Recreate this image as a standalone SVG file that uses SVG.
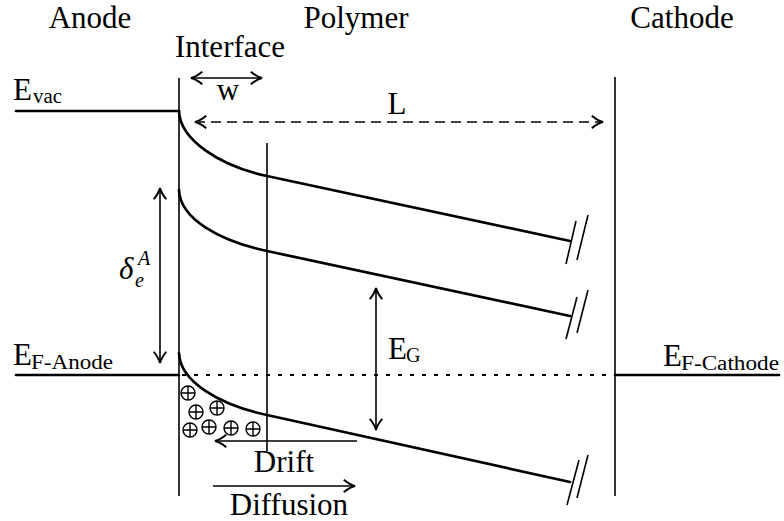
<svg xmlns="http://www.w3.org/2000/svg" width="784" height="521" viewBox="0 0 784 521">
<style>
text{font-family:"Liberation Serif","DejaVu Serif","Times New Roman",serif;fill:#000}
.t{font-size:31px}
.s{font-size:20px}
.i{font-style:italic}
.thick{stroke:#000;stroke-width:2.7;fill:none;stroke-linecap:round}
.thin{stroke:#000;stroke-width:1.6;fill:none}
.arr{stroke:#000;stroke-width:1.6;fill:none}
</style>
<defs>
<marker id="ah" markerUnits="userSpaceOnUse" markerWidth="20" markerHeight="20" viewBox="-12 -8 14 16" refX="0" refY="0" orient="auto-start-reverse">
<path d="M-9,-5 Q-4,-1 0,0 Q-4,1 -9,5" fill="none" stroke="#000" stroke-width="1.6"/>
</marker>
</defs>
<rect width="784" height="521" fill="#fff"/>

<g id="labels">
<text class="t" x="90" y="28" text-anchor="middle">Anode</text>
<text class="t" x="356" y="28" text-anchor="middle">Polymer</text>
<text class="t" x="682" y="28" text-anchor="middle">Cathode</text>
<text class="t" x="230" y="57" text-anchor="middle">Interface</text>
</g>

<g id="electrodes">
<line class="thin" x1="179" y1="78" x2="179" y2="496"/>
<line class="thin" x1="615" y1="77" x2="615" y2="496"/>
<line class="thick" x1="16" y1="111" x2="179" y2="111"/>
<line class="thick" x1="16" y1="375" x2="179" y2="375"/>
<line class="thick" x1="615" y1="375" x2="779" y2="375"/>
<line x1="182" y1="375" x2="612" y2="375" stroke="#000" stroke-width="2" stroke-dasharray="4 8"/>
<line class="thin" x1="267" y1="143" x2="267" y2="451"/>
</g>

<g id="level-labels">
<text class="t" x="13" y="100">E<tspan class="s" x="33" y="103" textLength="29" lengthAdjust="spacingAndGlyphs">vac</tspan></text>
<text class="t" x="13" y="365">E<tspan class="s" x="31" y="369" textLength="82" lengthAdjust="spacingAndGlyphs">F-Anode</tspan></text>
<text class="t" x="663" y="366">E<tspan class="s" x="681" y="370" textLength="98" lengthAdjust="spacingAndGlyphs">F-Cathode</tspan></text>
</g>

<g id="bands">
<path class="thick" d="M179,111 C180,140 220,166 267,176 L570,241"/>
<path class="thick" d="M179,190 C180,219 220,241 267,251 L570,316"/>
<path class="thick" d="M179,353 C180,382 220,405 267,415 L570,482"/>
<g class="thin" stroke-width="1.8">
<line x1="566" y1="264" x2="576" y2="221"/>
<line x1="577" y1="260" x2="588" y2="215"/>
<line x1="566" y1="339" x2="577" y2="297"/>
<line x1="577" y1="333" x2="588" y2="290"/>
<line x1="567" y1="505" x2="579" y2="460"/>
<line x1="577" y1="498" x2="588" y2="455"/>
</g>
</g>

<g id="holes" stroke="#000" stroke-width="1.4" fill="none">
<g id="h1"><circle cx="188" cy="393" r="7"/><path d="M181,393h14M188,386v14"/></g>
<g id="h2"><circle cx="196" cy="412" r="7"/><path d="M189,412h14M196,405v14"/></g>
<g id="h3"><circle cx="217" cy="408" r="7"/><path d="M210,408h14M217,401v14"/></g>
<g id="h4"><circle cx="190" cy="430" r="7"/><path d="M183,430h14M190,423v14"/></g>
<g id="h5"><circle cx="209" cy="427" r="7"/><path d="M202,427h14M209,420v14"/></g>
<g id="h6"><circle cx="231" cy="428" r="7"/><path d="M224,428h14M231,421v14"/></g>
<g id="h7"><circle cx="253" cy="429" r="7"/><path d="M246,429h14M253,422v14"/></g>
</g>

<g id="connectors">
<line class="arr" x1="191" y1="78" x2="262" y2="78" marker-start="url(#ah)" marker-end="url(#ah)"/>
<line class="arr" x1="195" y1="122" x2="603" y2="122" stroke-dasharray="10 6" marker-start="url(#ah)" marker-end="url(#ah)"/>
<line class="arr" x1="160" y1="188" x2="160" y2="363" marker-start="url(#ah)" marker-end="url(#ah)"/>
<line class="arr" x1="376" y1="288" x2="376" y2="430" marker-start="url(#ah)" marker-end="url(#ah)"/>
<line class="arr" x1="357" y1="441" x2="215" y2="441" marker-end="url(#ah)"/>
<line class="arr" x1="213" y1="486" x2="355" y2="486" marker-end="url(#ah)"/>
</g>

<g id="arrow-labels">
<text class="t" x="228" y="100" text-anchor="middle">w</text>
<text class="t" x="397" y="114" text-anchor="middle">L</text>
<text class="t i" x="119" y="279">δ</text>
<text class="s i" x="138" y="265">A</text>
<text class="s i" x="135" y="287">e</text>
<text class="t" x="388" y="359">E<tspan class="s" x="406" y="362">G</tspan></text>
<text class="t" x="284" y="472" text-anchor="middle">Drift</text>
<text class="t" x="289" y="515" text-anchor="middle">Diffusion</text>
</g>
</svg>
